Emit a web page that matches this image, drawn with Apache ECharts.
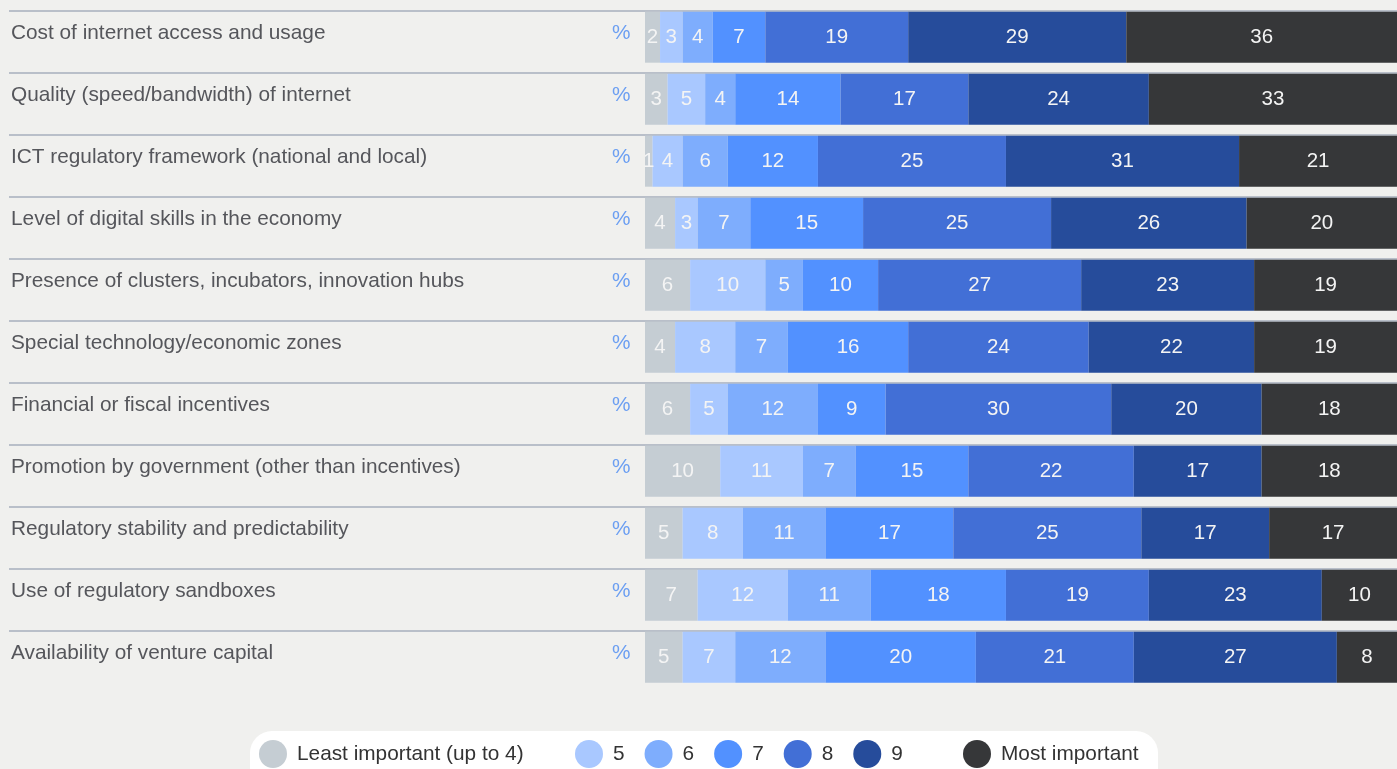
<!DOCTYPE html>
<html><head><meta charset="utf-8">
<script src="https://cdn.jsdelivr.net/npm/echarts@6/dist/echarts.min.js"></script>
<style>html,body{margin:0;padding:0;background:#f0f0ee;}#c{width:1397px;height:769px;}</style>
</head><body><div id="c"></div>
<script>
const categories = [
  'Cost of internet access and usage',
  'Quality (speed/bandwidth) of internet',
  'ICT regulatory framework (national and local)',
  'Level of digital skills in the economy',
  'Presence of clusters, incubators, innovation hubs',
  'Special technology/economic zones',
  'Financial or fiscal incentives',
  'Promotion by government (other than incentives)',
  'Regulatory stability and predictability',
  'Use of regulatory sandboxes',
  'Availability of venture capital'
];
const seriesNames = ['Least important (up to 4)', '5', '6', '7', '8', '9', 'Most important'];
const least = [2, 3, 1, 4, 6, 4, 6, 10, 5, 7, 5];
const s5 = [3, 5, 4, 3, 10, 8, 5, 11, 8, 12, 7];
const s6 = [4, 4, 6, 7, 5, 7, 12, 7, 11, 11, 12];
const s7 = [7, 14, 12, 15, 10, 16, 9, 15, 17, 18, 20];
const s8 = [19, 17, 25, 25, 27, 24, 30, 22, 25, 19, 21];
const s9 = [29, 24, 31, 26, 23, 22, 20, 17, 17, 23, 27];
const most = [36, 33, 21, 20, 19, 19, 18, 18, 17, 10, 8];
const seriesValues = [least, s5, s6, s7, s8, s9, most];
const colors = ['#c5cdd3', '#a9c8ff', '#7eadfd', '#5291ff', '#426fd6', '#264c9b', '#363739'];
const separatorTicks = [0, 10];

const FONT = 'Liberation Sans, Helvetica, Arial, sans-serif';
const FS = 20.8;
const chart = echarts.init(document.getElementById('c'));
const series = seriesNames.map((n, i) => ({
  name: n, type: 'bar', stack: 'all', barWidth: 51,
  xAxisIndex: 0, yAxisIndex: 0,
  itemStyle: { color: colors[i] },
  label: { show: true, position: 'inside', color: '#f4f4f4', fontSize: 20.5, fontFamily: FONT },
  data: seriesValues[i]
}));
chart.setOption({
  backgroundColor: '#f0f0ee',
  animation: false,
  graphic: [{ type: 'rect', left: 250, top: 731, shape: { width: 908, height: 70, r: 22 }, style: { fill: '#ffffff' }, z: -1 }],
  grid: [
    { left: 645, right: 0, top: 6.2, height: 682 },
    { left: 9, right: 0, top: 11, height: 620 },
    { left: 645, right: 0, top: 2.5, height: 682 }
  ],
  xAxis: [
    { type: 'value', min: 0, max: 100, show: false, gridIndex: 0 },
    { type: 'value', min: 0, max: 1, show: false, gridIndex: 1 },
    { type: 'value', min: 0, max: 1, show: false, gridIndex: 2 }
  ],
  yAxis: [
    { type: 'category', data: categories, inverse: true, gridIndex: 0,
      axisLine: { show: false }, axisTick: { show: false }, axisLabel: { show: false } },
    { type: 'category', data: categories, inverse: true, gridIndex: 2,
      axisLine: { show: false }, axisTick: { show: false },
      axisLabel: { align: 'left', margin: 634, fontSize: FS, color: '#55565b', fontFamily: FONT } },
    { type: 'category', data: categories, inverse: true, gridIndex: 2, position: 'left',
      axisLine: { show: false }, axisTick: { show: false },
      axisLabel: { align: 'left', margin: 33, fontSize: FS, color: '#6c9ff2', fontFamily: FONT, formatter: () => '%' } },
    { type: 'value', min: separatorTicks[0], max: separatorTicks[1], interval: 1, gridIndex: 1,
      axisLine: { show: false }, axisTick: { show: false }, axisLabel: { show: false },
      splitLine: { show: true, lineStyle: { color: '#a7afbc', width: 1.5 } } }
  ],
  legend: [
    { data: [seriesNames[0]], left: 254, top: 735, icon: 'circle', itemWidth: 28, itemHeight: 28,
      textStyle: { fontSize: FS, color: '#333', fontFamily: FONT, padding: [0, 0, 0, 5] } },
    { data: seriesNames.slice(1, 6), left: 570, top: 735, icon: 'circle', itemWidth: 28, itemHeight: 28, itemGap: 20,
      textStyle: { fontSize: FS, color: '#333', fontFamily: FONT, padding: [0, 0, 0, 5] } },
    { data: [seriesNames[6]], left: 958, top: 735, icon: 'circle', itemWidth: 28, itemHeight: 28,
      textStyle: { fontSize: FS, color: '#333', fontFamily: FONT, padding: [0, 0, 0, 5] } }
  ],
  series: series
});
</script></body></html>
